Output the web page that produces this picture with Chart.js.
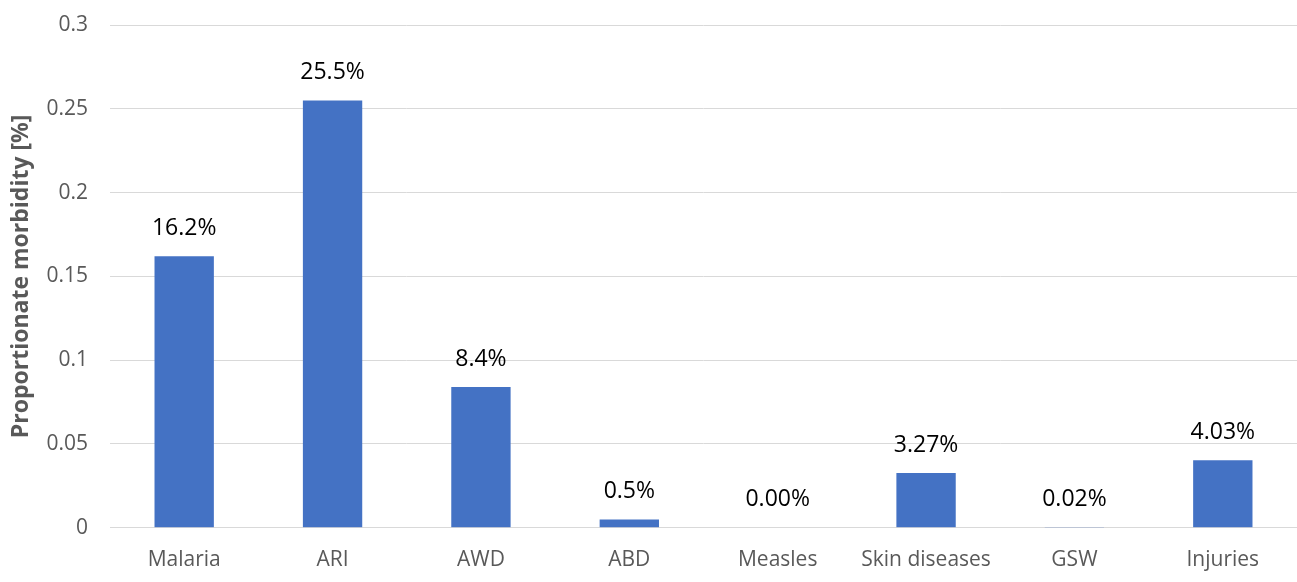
<!DOCTYPE html>
<html>
<head>
<meta charset="utf-8">
<script src="https://cdn.jsdelivr.net/npm/chart.js@4/dist/chart.umd.min.js"></script>
<style>
  html, body { margin: 0; padding: 0; background: #ffffff; }
  #wrap { width: 1297px; height: 582px; position: relative; }
</style>
</head>
<body>
<div id="wrap"><canvas id="chart"></canvas></div>
<script>
// Proportionate morbidity by condition
const categories = ['Malaria', 'ARI', 'AWD', 'ABD', 'Measles', 'Skin diseases', 'GSW', 'Injuries'];
const morbidity = [0.162, 0.255, 0.084, 0.005, 0.0, 0.0327, 0.0002, 0.0403];
// decimal places used in each bar's percentage label
const labelDecimals = [1, 1, 1, 1, 2, 2, 2, 2];
const yTicks = [0, 0.05, 0.1, 0.15, 0.2, 0.25, 0.3];

const FONT = "'Open Sans', 'Liberation Sans', sans-serif";

// Writes the percentage value above each bar
const valueLabels = {
  id: 'valueLabels',
  afterDatasetsDraw(chart) {
    const ctx = chart.ctx;
    const meta = chart.getDatasetMeta(0);
    ctx.save();
    ctx.font = `23px ${FONT}`;
    ctx.fillStyle = '#000000';
    ctx.textAlign = 'center';
    ctx.textBaseline = 'middle';
    meta.data.forEach((bar, i) => {
      const v = morbidity[i];
      const txt = (v * 100).toFixed(labelDecimals[i]) + '%';
      ctx.fillText(txt, bar.x, bar.y - 28);
    });
    ctx.restore();
  }
};

new Chart(document.getElementById('chart'), {
  type: 'bar',
  data: {
    labels: categories,
    datasets: [{
      data: morbidity,
      backgroundColor: '#4472C4',
      borderWidth: 0,
      barPercentage: 0.4,
      categoryPercentage: 1.0
    }]
  },
  options: {
    responsive: true,
    maintainAspectRatio: false,
    animation: false,
    layout: { padding: { top: 25, right: 0, bottom: -11, left: 8 } },
    plugins: {
      legend: { display: false },
      tooltip: { enabled: false }
    },
    scales: {
      x: {
        grid: { display: false, drawTicks: false },
        border: { display: true, color: '#d9d9d9', width: 1 },
        ticks: {
          color: '#595959',
          font: { family: FONT, size: 21 },
          padding: 20,
          maxRotation: 0
        }
      },
      y: {
        min: 0,
        max: 0.3,
        afterBuildTicks(axis) { axis.ticks = yTicks.map(v => ({ value: v })); },
        afterFit(axis) {
          axis.width = 102;
          axis.paddingTop = 0;
          axis.paddingBottom = 0;
        },
        grid: { color: '#d9d9d9', drawTicks: false, lineWidth: 1 },
        border: { display: false },
        ticks: {
          color: '#595959',
          font: { family: FONT, size: 21 },
          padding: 22,
          callback: v => String(v)
        },
        title: {
          display: true,
          text: 'Proportionate morbidity [%]',
          color: '#595959',
          font: { family: FONT, size: 23, weight: 'bold' },
          padding: { top: 0, bottom: 10 }
        }
      }
    }
  },
  plugins: [valueLabels]
});
</script>
</body>
</html>
